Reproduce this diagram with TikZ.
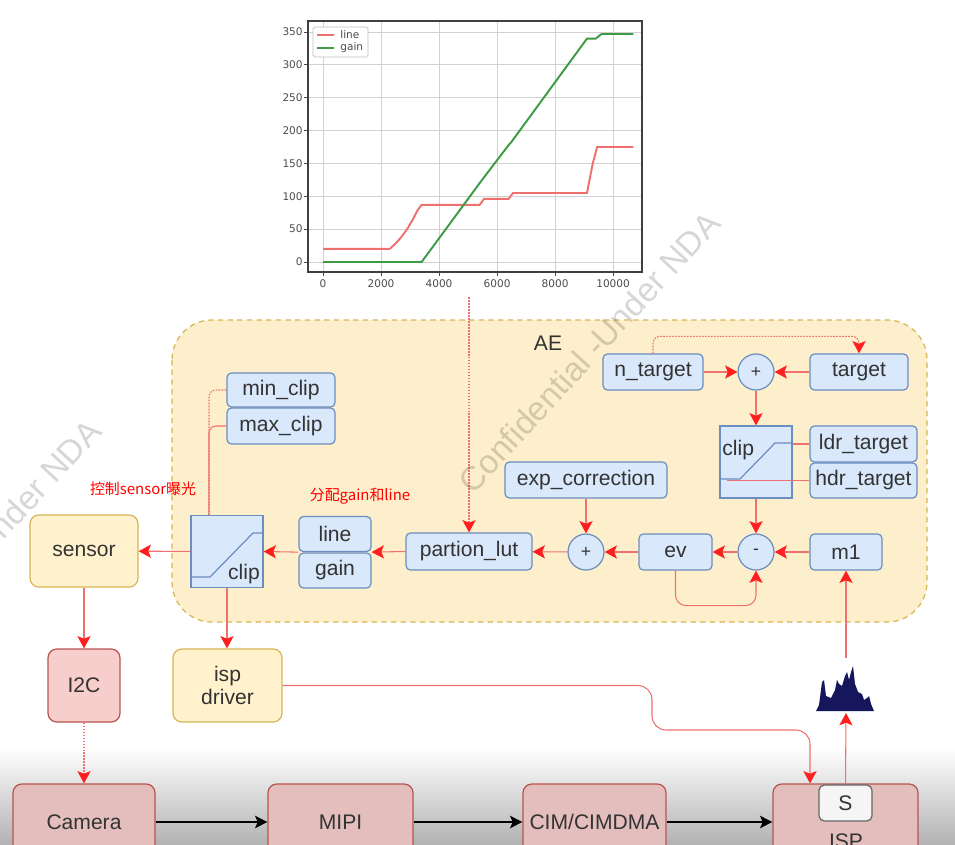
\documentclass[tikz,border=0pt]{standalone}
\usepackage{fontspec}
\setsansfont{Liberation Sans}
\newfontfamily\cjk{Noto Sans CJK SC}
\newfontfamily\plotfont{DejaVu Sans}
\usetikzlibrary{arrows.meta,calc}
\definecolor{bluefill}{HTML}{DAE8FC}
\definecolor{blueline}{HTML}{6C8EBF}
\definecolor{yelfill}{HTML}{FFF2CC}
\definecolor{yelline}{HTML}{D6B656}
\definecolor{redfill}{HTML}{F8CECC}
\definecolor{redline}{HTML}{B85450}
\definecolor{wire}{HTML}{EE7070}
\definecolor{tipred}{HTML}{FF1F1F}
\definecolor{txt}{HTML}{333333}
\definecolor{aefill}{HTML}{FDEFCB}
\definecolor{histblue}{HTML}{16165C}
\definecolor{plotred}{HTML}{F07070}
\definecolor{plotgreen}{HTML}{3E9B45}
\tikzset{
  blk/.style={draw=blueline,fill=bluefill,rounded corners=2.5pt,line width=0.7pt,
    minimum height=0.72cm,inner sep=1pt,text=txt},
  sumc/.style={circle,draw=blueline,fill=bluefill,line width=0.7pt,minimum size=0.72cm,
    inner sep=0pt,text=txt,font=\sffamily\fontsize{10}{12}\selectfont},
  clipbox/.style={draw=blueline,fill=bluefill,line width=0.7pt,minimum size=1.44cm,
    inner sep=0pt,text=txt},
  ybox/.style={draw=yelline,fill=yelfill,rounded corners=5pt,line width=0.7pt,text=txt},
  rbox/.style={draw=redline,fill=redfill,rounded corners=5pt,line width=0.7pt,text=txt},
  pbox/.style={draw=redline,fill=redfill!92!black,rounded corners=5pt,line width=0.7pt,
    minimum height=1.52cm,text=txt},
  sbox/.style={draw=black!60,fill=black!4,rounded corners=3pt,line width=0.7pt,
    minimum width=1.06cm,minimum height=0.72cm,text=txt},
  ctl/.style={draw=wire,line width=0.6pt,-{Stealth[length=7pt,width=7.5pt,inset=1.5pt,tipred]}},
  ctlline/.style={draw=wire,line width=0.6pt},
  ctldot/.style={ctl,dash pattern=on 1pt off 0.7pt},
  flow/.style={draw=black,line width=1.1pt,-{Stealth[length=7pt,width=7pt,inset=1.5pt]}},
  note/.style={text=red,font=\cjk\fontsize{8.5}{10}\selectfont,inner sep=0pt},
  gridc/.style={draw=black!18,line width=0.5pt},
  tick/.style={text=black!70,font=\plotfont\fontsize{6}{7}\selectfont,inner sep=0pt},
  wmark/.style={text=black,opacity=0.16,font=\sffamily\fontsize{19}{22}\selectfont}
}
\begin{document}
\begin{tikzpicture}[x=0.02cm,y=-0.02cm,font=\sffamily\fontsize{12}{14}\selectfont]
  \clip (0,0) rectangle (955,844);
  \fill[white] (0,0) rectangle (955,844);
  \shade[top color=white,bottom color=black!30] (0,748) rectangle (955,844);

  % chart
  \begin{scope}[shift={(323,262)},xscale=0.029,yscale=-0.657]
    \foreach \gx in {0,2000,...,10000} {
      \draw[gridc] (\gx,-15) -- (\gx,367);
      \draw[black!70,line width=0.5pt] (\gx,-15) -- (\gx,-21);
      \node[tick,anchor=north] at (\gx,-26) {\gx};
    }
    \foreach \gy in {0,50,...,350} {
      \draw[gridc] (-517,\gy) -- (11000,\gy);
      \draw[black!70,line width=0.5pt] (-517,\gy) -- (-655,\gy);
      \node[tick,anchor=east] at (-690,\gy) {\gy};
    }
    \draw[black!75,line width=0.8pt] (-517,-15) rectangle (11000,367);
    \draw[plotred,line width=1.1pt] (0,20) -- (2300,20) -- (2500,28) -- (2700,38)
      -- (2900,50) -- (3100,65) -- (3250,78) -- (3400,87) -- (5400,87) -- (5550,96)
      -- (6400,96) -- (6550,105) -- (9100,105) -- (9300,150) -- (9450,175) -- (10700,175);
    \draw[plotgreen,line width=1.1pt] (0,0) -- (3400,0) -- (5400,120) -- (5500,126)
      -- (6400,178) -- (6500,183) -- (9100,340) -- (9400,340) -- (9600,347) -- (10700,347);
  \end{scope}
  \draw[draw=black!25,fill=white,rounded corners=1pt,line width=0.4pt] (313,27) rectangle (368,57);
  \draw[plotred,line width=1.1pt] (317,35) -- (334,35);
  \draw[plotgreen,line width=1.1pt] (317,48) -- (334,48);
  \node[tick,anchor=west] (legline) at (340,35) {line};
  \node[tick,anchor=west] (leggain) at (340,48) {gain};
  \coordinate (plotout) at (469,297);

  % AE block
  \draw[draw=yelline,fill=aefill,line width=0.7pt,dash pattern=on 3pt off 2.5pt,
    rounded corners=0.8cm] (172,320) rectangle (927,622);
  \node[text=txt] (aelab) at (548,343) {AE};

  \node[blk,minimum width=2.16cm,minimum height=0.68cm] (minclip) at (281,390) {min\_clip};
  \node[blk,minimum width=2.16cm] (maxclip) at (281,426) {max\_clip};
  \node[clipbox,label={[text=txt,anchor=south east,inner sep=2pt]south east:clip}] (clipl) at (227,551.5) {};
  \draw[blueline,line width=0.7pt] (191,577) -- (210,577) -- (253,533) -- (263,533);
  \node[blk,minimum width=1.44cm,minimum height=0.7cm] (linebox) at (335,534) {line};
  \node[blk,minimum width=1.44cm,minimum height=0.7cm] (gainbox) at (335,570.5) {gain};
  \node[blk,minimum width=2.52cm,minimum height=0.74cm] (lut) at (469,551.5) {partion\_lut};
  \node[blk,minimum width=3.24cm] (expcorr) at (586,480) {exp\_correction};
  \node[sumc] (plusl) at (586,552) {+};
  \node[blk,minimum width=1.46cm] (ev) at (675.5,552) {ev};
  \node[sumc] (minus) at (756,552) {-};
  \node[blk,minimum width=1.44cm] (m1) at (846,552) {m1};
  \node[blk,minimum width=2cm] (ntarget) at (653,372) {n\_target};
  \node[sumc] (plustop) at (756,372) {+};
  \node[blk,minimum width=1.96cm] (target) at (859,372) {target};
  \node[clipbox] (clipr) at (756,462) {};
  \node[text=txt,anchor=west,inner sep=0pt] (cliprlab) at (722,450) {clip};
  \draw[blueline,line width=0.7pt] (720,479) -- (740,479) -- (775,443) -- (792,443);
  \node[blk,minimum width=2.14cm] (ldr) at (863.5,444) {ldr\_target};
  \node[blk,minimum width=2.14cm,minimum height=0.7cm] (hdr) at (863.5,480.5) {hdr\_target};

  \node[note] (ctrlnote) at (143,489) {控制sensor曝光};
  \node[note] (splitnote) at (360,496) {分配gain和line};

  % outside AE
  \node[ybox,minimum width=2.16cm,minimum height=1.44cm] (sensor) at (84,551) {sensor};
  \node[rbox,minimum width=1.44cm,minimum height=1.46cm] (itwoc) at (84,685.5) {I2C};
  \node[ybox,minimum width=2.18cm,minimum height=1.46cm,align=center,
    font=\sffamily\fontsize{12}{13.6}\selectfont] (ispdrv) at (227.5,685.5) {isp\\driver};
  \node[pbox,minimum width=2.84cm] (camera) at (84,822) {Camera};
  \node[pbox,minimum width=2.9cm] (mipi) at (340.5,822) {MIPI};
  \node[pbox,minimum width=2.86cm] (cim) at (594.5,822) {CIM/CIMDMA};
  \node[pbox,minimum width=2.9cm] (isp) at (845.5,822) {};
  \node[text=txt] (isplab) at (846,841) {ISP};
  \node[sbox] (sbox) at (845.5,803) {S};

  % histogram
  \fill[histblue] (816,711) -- (819,705) -- (822,682) -- (824,680) -- (826,696) -- (831,698)
    -- (835,690) -- (837,680) -- (839,684) -- (842,686) -- (845,676) -- (847,672)
    -- (849,680) -- (851,672) -- (853,666) -- (855,684) -- (858,692) -- (862,694)
    -- (864,700) -- (867,698) -- (869,696) -- (871,704) -- (874,711) -- cycle;
  \coordinate (histlo) at (846,713);
  \coordinate (histhi) at (846,658);

  % connectors
  \draw[ctl] (ntarget) -- (plustop);
  \draw[ctl] (target) -- (plustop);
  \draw[ctldot,rounded corners=4pt] (ntarget.north) -- ++(0,-17) -| (target.north);
  \draw[ctl] (plustop) -- (clipr);
  \draw[ctlline] (ldr.west) -- (clipr.east |- ldr.west);
  \draw[ctlline] (hdr.west) -- ++(-82,0);
  \draw[ctl] (clipr) -- (minus);
  \draw[ctl] (m1) -- (minus);
  \draw[ctl] (minus) -- (ev);
  \draw[ctl,rounded corners=6pt] (ev.south) -- ++(0,35) -| (minus.south);
  \draw[ctl] (ev) -- (plusl);
  \draw[ctl] (expcorr) -- (plusl);
  \draw[ctl] (plusl) -- (lut);
  \draw[ctldot] (plotout) -- (lut.north);
  \draw[ctl] (lut.west) -- (linebox.south east);
  \draw[ctl] (linebox.south west) -- (clipl.east);
  \draw[ctlline,dash pattern=on 1pt off 0.7pt,rounded corners=4pt] (minclip.west) -| ([xshift=-0.36cm]clipl.north);
  \draw[ctlline,rounded corners=4pt] (maxclip.west) -| ([xshift=-0.36cm]clipl.north);
  \draw[ctl] (clipl) -- (sensor);
  \draw[ctl] (clipl.south) -- (clipl.south |- ispdrv.north);
  \draw[ctl] (sensor) -- (itwoc);
  \draw[ctldot] (itwoc) -- (camera);
  \draw[ctl,rounded corners=8pt] (ispdrv.east) -- (652,685.5) -- (652,730) -| ([xshift=-0.71cm]isp.north);
  \draw[ctl] (sbox.north) -- (histlo);
  \draw[ctl] (histhi) -- (m1.south);
  \draw[flow] (camera) -- (mipi);
  \draw[flow] (mipi) -- (cim);
  \draw[flow] (cim) -- (isp);

  % watermark
  \node[wmark,rotate=47.3] (wmmid) at (589,352) {Confidential -Under NDA};
  \node[wmark,rotate=47.3] (wmleft) at (-30,560) {Confidential -Under NDA};
\end{tikzpicture}
\end{document}
